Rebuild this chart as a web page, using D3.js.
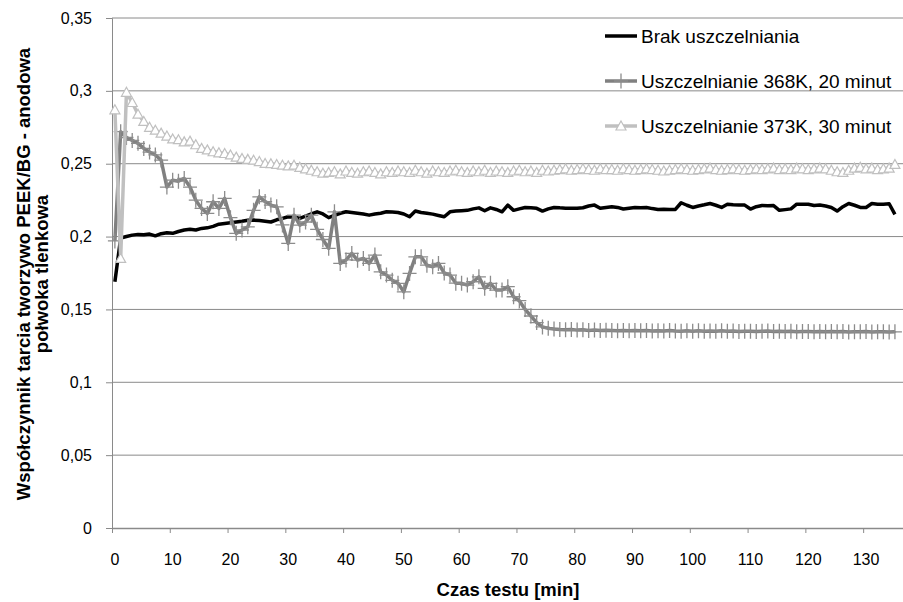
<!DOCTYPE html>
<html>
<head>
<meta charset="utf-8">
<script src="https://cdn.jsdelivr.net/npm/d3@7"></script>
<style>
  body { margin: 0; background: #fff; }
  svg { font-family: "Liberation Sans", Arial, sans-serif; }
</style>
</head>
<body>
<div id="chart"></div>
<script>
// Data: one value per minute (category 0..135)
var seriesNames = ["Brak uszczelniania", "Uszczelnianie 368K, 20 minut", "Uszczelnianie 373K, 30 minut"];

var brak = [
  0.169, 0.199, 0.200, 0.201, 0.2015, 0.2012, 0.2017, 0.2005, 0.202, 0.2026,
  0.2022, 0.2035, 0.2045, 0.205, 0.2045, 0.2056, 0.206, 0.207, 0.2085, 0.209,
  0.2095, 0.210, 0.2105, 0.2112, 0.2113, 0.211, 0.2105, 0.210, 0.2115, 0.2125,
  0.2136, 0.2135, 0.2125, 0.214, 0.2155, 0.217, 0.2155, 0.213, 0.2145, 0.216,
  0.217, 0.2165, 0.216, 0.2155, 0.2147, 0.2155, 0.216, 0.217, 0.2168, 0.2165,
  0.2155, 0.2136, 0.2175, 0.2165, 0.216, 0.2154, 0.2145, 0.2136, 0.217, 0.2175,
  0.2178, 0.218, 0.219, 0.2197, 0.2177, 0.2197, 0.2186, 0.217, 0.2216, 0.218,
  0.219, 0.220, 0.2197, 0.2194, 0.2175, 0.219, 0.220, 0.2197, 0.2195, 0.2194,
  0.2194, 0.2198, 0.221, 0.2216, 0.2194, 0.220, 0.2205, 0.220, 0.2189, 0.2195,
  0.220, 0.2198, 0.220, 0.2192, 0.2186, 0.2188, 0.2186, 0.2186, 0.2232, 0.2215,
  0.220, 0.221, 0.2218, 0.2227, 0.2215, 0.220, 0.2222, 0.2218, 0.2216, 0.2216,
  0.2189, 0.2205, 0.2213, 0.2212, 0.2213, 0.218, 0.2185, 0.219, 0.2222, 0.2222,
  0.2222, 0.2213, 0.2216, 0.221, 0.220, 0.2175, 0.2205, 0.2227, 0.2215, 0.220,
  0.220, 0.2227, 0.2222, 0.2222, 0.2225, 0.2152
];

var k368 = [
  0.197, 0.272, 0.268, 0.266, 0.264, 0.2605, 0.258, 0.256, 0.2525, 0.234,
  0.2387, 0.238, 0.2399, 0.234, 0.225, 0.2193, 0.2159, 0.2239, 0.2193, 0.2262,
  0.213, 0.2022, 0.2045, 0.2067, 0.218, 0.2273, 0.224, 0.2216, 0.2204, 0.208,
  0.1953, 0.2147, 0.2078, 0.210, 0.2147, 0.205, 0.198, 0.1919, 0.217, 0.1816,
  0.184, 0.1884, 0.1838, 0.185, 0.1816, 0.1873, 0.1758, 0.1736, 0.170, 0.1679,
  0.1621, 0.1747, 0.1861, 0.1861, 0.1804, 0.1793, 0.1816, 0.175, 0.1736, 0.168,
  0.1679, 0.1667, 0.169, 0.1724, 0.1645, 0.1679, 0.1633, 0.1633, 0.1656, 0.1587,
  0.156, 0.150, 0.1455, 0.141, 0.138, 0.137,
  0.1365, 0.1362, 0.1360, 0.1362, 0.1358, 0.1360, 0.1356, 0.1358, 0.1355, 0.1357,
  0.1355, 0.1353, 0.1356, 0.1354, 0.1356, 0.1353, 0.1355, 0.1352, 0.1354, 0.1352,
  0.1355, 0.1352, 0.1350, 0.1353, 0.1351, 0.1354, 0.1350, 0.1352, 0.1350, 0.1353,
  0.1350, 0.1352, 0.1349, 0.1351, 0.1350, 0.1348, 0.1350, 0.1352, 0.1349, 0.1351,
  0.1348, 0.1350, 0.1347, 0.1349, 0.1348, 0.1346, 0.1349, 0.1347, 0.1348, 0.1346,
  0.1348, 0.1345, 0.1347, 0.1346, 0.1348, 0.1345, 0.1347, 0.1346, 0.1345, 0.1346
];

var k373 = [
  0.287, 0.185, 0.299, 0.292, 0.284, 0.279, 0.275, 0.273, 0.271, 0.269,
  0.267, 0.2665, 0.265, 0.2655, 0.263, 0.2605, 0.2595, 0.2582, 0.2575, 0.257,
  0.256, 0.2545, 0.2536, 0.253, 0.2524, 0.2515, 0.2502, 0.250, 0.2495, 0.249,
  0.2485, 0.249, 0.2475, 0.2465, 0.2455, 0.2445, 0.2435,
  0.2440, 0.2445, 0.2430, 0.2450, 0.2440, 0.2435, 0.2445, 0.2450, 0.2440, 0.2430,
  0.2445, 0.2440, 0.2450, 0.2445, 0.2440, 0.2455, 0.2445, 0.2435, 0.2450, 0.2445,
  0.2440, 0.2450, 0.2455, 0.2445, 0.2440, 0.2450, 0.2445, 0.2455, 0.2440, 0.2450,
  0.2445, 0.2440, 0.2450, 0.2455, 0.2445, 0.2450, 0.2440, 0.2455, 0.2450,
  0.2455, 0.2460, 0.2465, 0.2455, 0.2460, 0.2465, 0.2460, 0.2455, 0.2465, 0.2460,
  0.2460, 0.2455, 0.2465, 0.2460, 0.2455, 0.2460, 0.2465, 0.2460, 0.2455, 0.2450,
  0.2455, 0.2460, 0.2465, 0.2460, 0.2455, 0.2460, 0.2465, 0.2470, 0.2460, 0.2455,
  0.2460, 0.2465, 0.2460, 0.2455, 0.2460, 0.2465, 0.2460, 0.2465, 0.2470, 0.2460,
  0.2465, 0.2460, 0.2470, 0.2465, 0.2460, 0.2465, 0.2470, 0.2465, 0.2455, 0.2445,
  0.2440, 0.2455, 0.2470, 0.2475, 0.2465, 0.2470, 0.2460, 0.2465, 0.2470, 0.2495
];

var xTicks = [0, 10, 20, 30, 40, 50, 60, 70, 80, 90, 100, 110, 120, 130];
var yTicks = [0, 0.05, 0.1, 0.15, 0.2, 0.25, 0.3, 0.35];

var width = 903, height = 602;
var svg = d3.select("#chart").append("svg")
  .attr("width", width)
  .attr("height", height);

// Scales: categories are minute slots, points sit in the middle of each slot
var x = d3.scaleLinear().domain([0, 137]).range([112, 903.6]);
var y = d3.scaleLinear().domain([0, 0.35]).range([528, 18]);

// Gridlines
svg.append("g").selectAll("line")
  .data(yTicks.filter(function(d) { return d > 0; }))
  .enter().append("line")
  .attr("x1", x(0)).attr("x2", width)
  .attr("y1", function(d) { return y(d); })
  .attr("y2", function(d) { return y(d); })
  .attr("stroke", "#8a8a8a")
  .attr("stroke-width", 1);

// Y axis
var yAxis = svg.append("g")
  .attr("transform", "translate(" + x(0) + ",0)")
  .call(d3.axisLeft(y).tickValues(yTicks).tickSize(6).tickPadding(14)
    .tickFormat(function(d) { return String(d).replace(".", ","); }));
yAxis.select(".domain").attr("stroke", "#8a8a8a");
yAxis.selectAll(".tick line").attr("stroke", "#8a8a8a");
yAxis.selectAll(".tick text")
  .attr("font-size", 16)
  .attr("font-family", "Liberation Sans, Arial, sans-serif")
  .attr("fill", "#000");

// X axis (ticks on slot borders, labels in slot middles)
var xAxis = svg.append("g")
  .attr("transform", "translate(0," + y(0) + ")")
  .call(d3.axisBottom(x).tickValues(xTicks).tickSize(5).tickSizeOuter(0).tickFormat(""));
xAxis.select(".domain").attr("stroke", "#8a8a8a").attr("stroke-width", 1.5);
xAxis.selectAll(".tick line").attr("stroke", "#8a8a8a");

svg.append("g").selectAll("text")
  .data(xTicks)
  .enter().append("text")
  .attr("x", function(d) { return x(d + 0.5); })
  .attr("y", 565)
  .attr("text-anchor", "middle")
  .attr("font-size", 16)
  .text(function(d) { return d; });

// Axis titles
svg.append("text")
  .attr("x", 508)
  .attr("y", 596)
  .attr("text-anchor", "middle")
  .attr("font-size", 18.5)
  .attr("font-weight", "bold")
  .text("Czas testu [min]");

var yTitle = svg.append("text")
  .attr("transform", "translate(0,274) rotate(-90)")
  .attr("text-anchor", "middle")
  .attr("font-size", 18.5)
  .attr("font-weight", "bold");
yTitle.append("tspan").attr("x", 0).attr("y", 30).text("Współczynnik tarcia  tworzywo PEEK/BG - anodowa");
yTitle.append("tspan").attr("x", 0).attr("y", 48).text("połwoka tlenkowa");

// Series
var line = d3.line()
  .x(function(d, i) { return x(i + 0.5); })
  .y(function(d) { return y(d); });

var plusPath = "M-7,0H7M0,-7.5V7.5";
var triPath = "M0,-5L5,4L-5,4Z";

// Brak uszczelniania
svg.append("path")
  .datum(brak)
  .attr("d", line)
  .attr("fill", "none")
  .attr("stroke", "#000")
  .attr("stroke-width", 3.5)
  .attr("stroke-linejoin", "round");

// 368K
svg.append("path")
  .datum(k368)
  .attr("d", line)
  .attr("fill", "none")
  .attr("stroke", "#808080")
  .attr("stroke-width", 3.5)
  .attr("stroke-linejoin", "round");
svg.append("g").selectAll("path")
  .data(k368)
  .enter().append("path")
  .attr("d", plusPath)
  .attr("transform", function(d, i) { return "translate(" + x(i + 0.5) + "," + y(d) + ")"; })
  .attr("stroke", "#8c8c8c")
  .attr("stroke-width", 1.3)
  .attr("fill", "none");

// 373K
svg.append("path")
  .datum(k373)
  .attr("d", line)
  .attr("fill", "none")
  .attr("stroke", "#c0c0c0")
  .attr("stroke-width", 3.5)
  .attr("stroke-linejoin", "round");
svg.append("g").selectAll("path")
  .data(k373)
  .enter().append("path")
  .attr("d", triPath)
  .attr("transform", function(d, i) { return "translate(" + x(i + 0.5) + "," + y(d) + ")"; })
  .attr("stroke", "#c0c0c0")
  .attr("stroke-width", 1.2)
  .attr("fill", "#fff");

// Legend
var legendY = [36, 81, 126];
var legendColors = ["#000", "#808080", "#c0c0c0"];
var legend = svg.append("g");
seriesNames.forEach(function(name, i) {
  var g = legend.append("g").attr("transform", "translate(605," + legendY[i] + ")");
  g.append("line")
    .attr("x1", 0).attr("x2", 32)
    .attr("stroke", legendColors[i])
    .attr("stroke-width", 3.5);
  if (i === 1) {
    g.append("path").attr("d", plusPath).attr("transform", "translate(16,0)")
      .attr("stroke", "#8c8c8c").attr("stroke-width", 1.3).attr("fill", "none");
  }
  if (i === 2) {
    g.append("path").attr("d", triPath).attr("transform", "translate(16,0)")
      .attr("stroke", "#c0c0c0").attr("stroke-width", 1.2).attr("fill", "#fff");
  }
  g.append("text")
    .attr("x", 36)
    .attr("y", 7)
    .attr("font-size", 19)
    .text(name);
});
</script>
</body>
</html>
